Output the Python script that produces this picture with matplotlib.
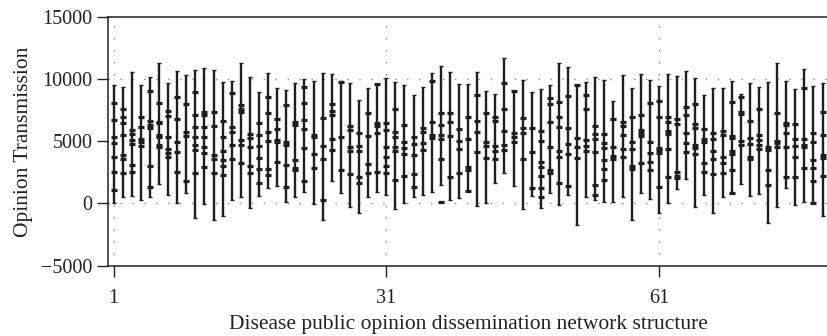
import matplotlib
matplotlib.use("Agg")
import matplotlib.pyplot as plt
import numpy as np

# Data: for each network structure (1..79)
# the lowest and highest whisker value and the main marked values.
structure = list(range(1, 80))
low = [52, 482, 590, 267, 536, 1558, 671, 52, 859, -1211,
       -55, -1345, -1023, 267, 482, -404, 590, 1208, 1396, 133,
       536, 939, -55, -1345, 1826, 805, -270, -754, 482, 939,
       671, -485, 52, 482, 671, 939, 1477, 267, 402, 1019,
       -216, -3, 1665, 2470, 1396, -485, 590, -404, 805, -135,
       671, -1749, 536, 267, 133, 133, 482, -1345, 859, 321,
       -754, -3, 1127, 1934, -270, 671, -807, 536, 859, 1558,
       590, 751, -1560, -270, 1208, -135, 133, 52, -1023]
high = [9541, 9407, 10589, 9541, 10159, 11342, 9675, 10697, 10347, 10751,
        10912, 10751, 9810, 9890, 11342, 10213, 9003, 10535, 9272, 9138,
        9675, 9998, 9890, 10481, 10428, 9890, 9675, 8331, 9272, 9622,
        10079, 9810, 9541, 8734, 9407, 10481, 11073, 10616, 9622, 9622,
        10616, 9084, 8815, 11750, 9084, 9944, 9003, 9192, 9541, 11342,
        11019, 9541, 9810, 10159, 9944, 8277, 10347, 9272, 10428, 9944,
        9460, 10428, 10267, 10697, 10079, 8734, 9272, 9272, 9890, 8815,
        9675, 9353, 9810, 11342, 9890, 9192, 10804, 9460, 9729]
marks = [
    [8063, 6719, 5375, 4891, 3708, 2552, 1074],
    [7579, 6934, 6450, 5509, 3869, 3547, 2418],
    [5912, 5590, 5105, 4783, 3063, 2552],
    [6934, 6181, 5159, 4971, 4622],
    [9084, 6665, 6315, 6046, 3009, 1343],
    [8063, 6584, 6450, 5509, 5321, 4702, 4514],
    [7471, 7041, 5321, 4353, 4030, 3708],
    [8547, 6772, 4971, 4165, 2552],
    [8009, 5778, 5428, 1826],
    [9003, 7122, 6127, 5321, 4702, 4299, 2418],
    [7391, 7122, 6127, 5321, 4514, 4085, 2902],
    [7391, 6235, 3896, 3547, 2418],
    [6665, 5321, 4245, 3493, 3009, 2284],
    [8923, 6181, 5778, 4702, 3547],
    [7928, 7579, 7391, 5105, 4702, 3278],
    [5590, 5240, 4514, 3009, 2472],
    [6450, 5509, 4622, 3627, 2740, 1611],
    [8600, 7310, 5778, 5052, 2740, 2284],
    [6772, 5966, 5105, 4971, 3359],
    [7928, 4971, 4702, 3090, 1289],
    [6584, 6315, 3493, 2821, 2686],
    [9407, 8116, 6718, 5966, 4434, 1826],
    [5509, 5321, 3977, 2821],
    [6853, 4622, 3547, 267],
    [8009, 7471, 7122, 5159, 4299],
    [9810, 5321, 2686],
    [6235, 5912, 4514, 4245, 2365],
    [5697, 4622, 4245, 2096, 1611],
    [7310, 5428, 3170, 2418],
    [9622, 6450, 6235, 5697, 2552],
    [6450, 5894, 4514, 3708, 3009, 2418],
    [7579, 5778, 5321, 4514, 4245, 1879],
    [6315, 4971, 4434, 3977, 2203],
    [5321, 4783, 3896, 2365, 1343],
    [6046, 5778, 4891, 4299],
    [9890, 6584, 5509, 5240],
    [7310, 6315, 5509, 5159, 3547, 133],
    [7310, 6584, 5428, 2096],
    [5966, 5052, 4353, 2418],
    [6934, 5159, 2902, 2686, 1019],
    [8734, 6665, 5778, 4165],
    [7310, 4971, 4622, 3627],
    [6934, 6665, 4622, 4245, 3547],
    [9729, 7579, 5858, 4702, 4299],
    [9084, 5697, 5321, 4971],
    [6853, 6046, 5697, 3547],
    [6046, 4165, 1208],
    [5858, 5052, 3359, 2956, 2203, 1208, 482],
    [8466, 8009, 6584, 4514, 2686, 2472],
    [8197, 6987, 6181, 4245, 3708, 1665],
    [8654, 6046, 4783, 3977, 1396],
    [9541, 5240, 4514, 3627],
    [8734, 7579, 5105, 4622, 4245],
    [6235, 5590, 5159, 4165, 1477, 671],
    [5590, 4891, 4434, 3493, 2740, 1879],
    [6772, 4514, 3815, 3547],
    [6584, 6235, 5509, 4353, 3708],
    [6934, 4971, 4353, 3009, 2740],
    [7122, 5912, 5697, 5428, 3278],
    [8116, 4971, 4085, 3359, 2686],
    [8277, 6934, 4434, 4299, 4085, 1289],
    [6934, 6584, 5858, 5590, 4353, 2096],
    [6772, 6396, 2552, 2203, 2015],
    [7794, 7122, 5644, 4837, 4165],
    [8009, 6396, 6046, 4702, 4434, 3977],
    [5966, 5159, 4971, 3224, 2552],
    [5697, 5159, 4245, 3547, 2365],
    [5858, 5509, 3708, 3224, 2472],
    [8197, 5428, 5240, 4245, 3977, 2686, 859],
    [8547, 7391, 7203, 5052, 4702],
    [6665, 5240, 4783, 3708, 3547],
    [7579, 5509, 5105, 4702, 4353],
    [4514, 4299, 2686, 1477],
    [7256, 5052, 4891, 4514],
    [6504, 6315, 5697, 4514, 2096],
    [6396, 5159, 4622, 3762, 2096],
    [9272, 5159, 4702, 4514, 2821],
    [5697, 4971, 3493, 2821, 1826, 52],
    [7391, 5509, 3896, 3627, 2203],
]
y_ticks = [-5000, 0, 5000, 10000, 15000]
x_ticks = [1, 31, 61]
grid_y = [0, 10000]

plt.rcParams['font.family'] = ['Liberation Serif', 'DejaVu Serif']
plt.rcParams['axes.unicode_minus'] = True

fig = plt.figure(figsize=(8.28, 3.36), dpi=100)
ax = fig.add_axes([0.1308, 0.2098, 0.8692, 0.7387])

line_col = '#1e1e1e'
for yv in grid_y:
    ax.axhline(yv, color='#8a8a8a', lw=1.0, ls=(0, (1, 7.6)), zorder=0)
for xv in x_ticks:
    ax.axvline(xv, color='#8a8a8a', lw=1.0, ls=(0, (1, 7.6)), zorder=0)

ax.vlines(structure, low, high, color=line_col, lw=1.7, zorder=2)
ax.plot(structure, low, ls='none', marker='_', ms=3.5, mew=1.0, color=line_col, zorder=3)
ax.plot(structure, high, ls='none', marker='_', ms=3.5, mew=1.0, color=line_col, zorder=3)
mx = [s for s, m in zip(structure, marks) for _ in m]
my = [v for m in marks for v in m]
ax.plot(mx, my, ls='none', marker='_', ms=4.6, mew=2.3, color=line_col, zorder=4)

ax.set_xlim(0.42, 79.6)
ax.set_ylim(-5000, 15000)
ax.set_yticks(y_ticks)
ax.set_xticks(x_ticks)
ax.tick_params(direction='out', length=8, width=1.0, labelsize=14.5, colors='#222222')
ax.tick_params(axis='x', pad=9)
ax.spines['right'].set_visible(False)
for s in ['left', 'bottom', 'top']:
    ax.spines[s].set_linewidth(1.1)
    ax.spines[s].set_color('#222222')

ax.set_ylabel('Opinion Transmission', fontsize=15.5, color='#222222', labelpad=6)
ax.set_xlabel('Disease public opinion dissemination network structure', fontsize=15.5,
              color='#222222', labelpad=5)

fig.savefig('out.png', dpi=100)
